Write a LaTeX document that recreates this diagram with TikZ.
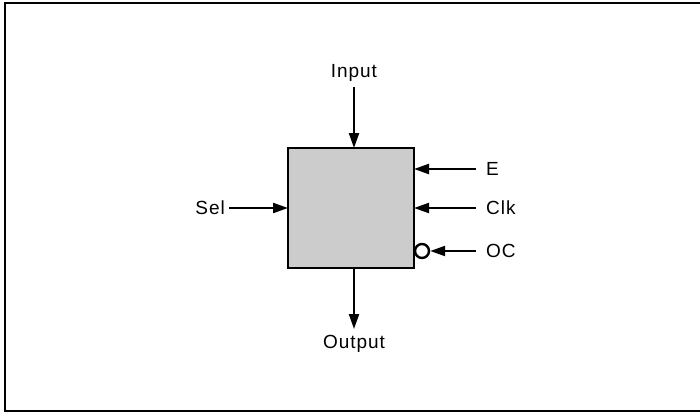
\documentclass[tikz,border=0pt]{standalone}
\usepackage{fontspec}
\setmainfont{Liberation Sans}[LetterSpace=5]
\usetikzlibrary{arrows.meta}
\begin{document}
\begin{tikzpicture}[x=1pt,y=-1pt,
  lbl/.style={font=\fontsize{19}{22}\selectfont, inner sep=0pt},
  sig/.style={line width=2.2pt, -{Triangle[length=15pt,width=10pt]}},
  blk/.style={draw, line width=2.4pt, fill=black!20}]
\useasboundingbox (0,0) rectangle (700,413);
\draw[line width=1.6pt] (700,3) -- (5,3) -- (5,411) -- (700,411);
\node[blk, minimum width=126pt, minimum height=120pt, inner sep=0pt] (box) at (351,208) {};
\node[lbl] (in) at (354,73) {Input};
\node[lbl] (out) at (354,344) {Output};
\node[lbl, anchor=east] (sel) at (225,208) {Sel};
\node[lbl, anchor=west] (e) at (486,169) {E};
\node[lbl, anchor=west] (clk) at (486,208) {Clk};
\node[lbl, anchor=west] (oc) at (486,251) {OC};
\coordinate (inS) at (354,87);
\coordinate (inE) at (354,148);
\draw[sig] (inS) -- (inE);
\coordinate (outS) at (354,268);
\coordinate (outE) at (354,329);
\draw[sig] (outS) -- (outE);
\coordinate (selS) at (229,208);
\coordinate (selE) at (288,208);
\draw[sig] (selS) -- (selE);
\coordinate (eS) at (476,169);
\coordinate (eE) at (414,169);
\draw[sig] (eS) -- (eE);
\coordinate (clkS) at (476,208);
\coordinate (clkE) at (414,208);
\draw[sig] (clkS) -- (clkE);
\node[circle, draw, line width=2.4pt, fill=white, minimum size=14pt, inner sep=0pt] (bub) at (422,251) {};
\coordinate (ocS) at (476,251);
\draw[sig] (ocS) -- (bub.east);
\end{tikzpicture}
\end{document}
